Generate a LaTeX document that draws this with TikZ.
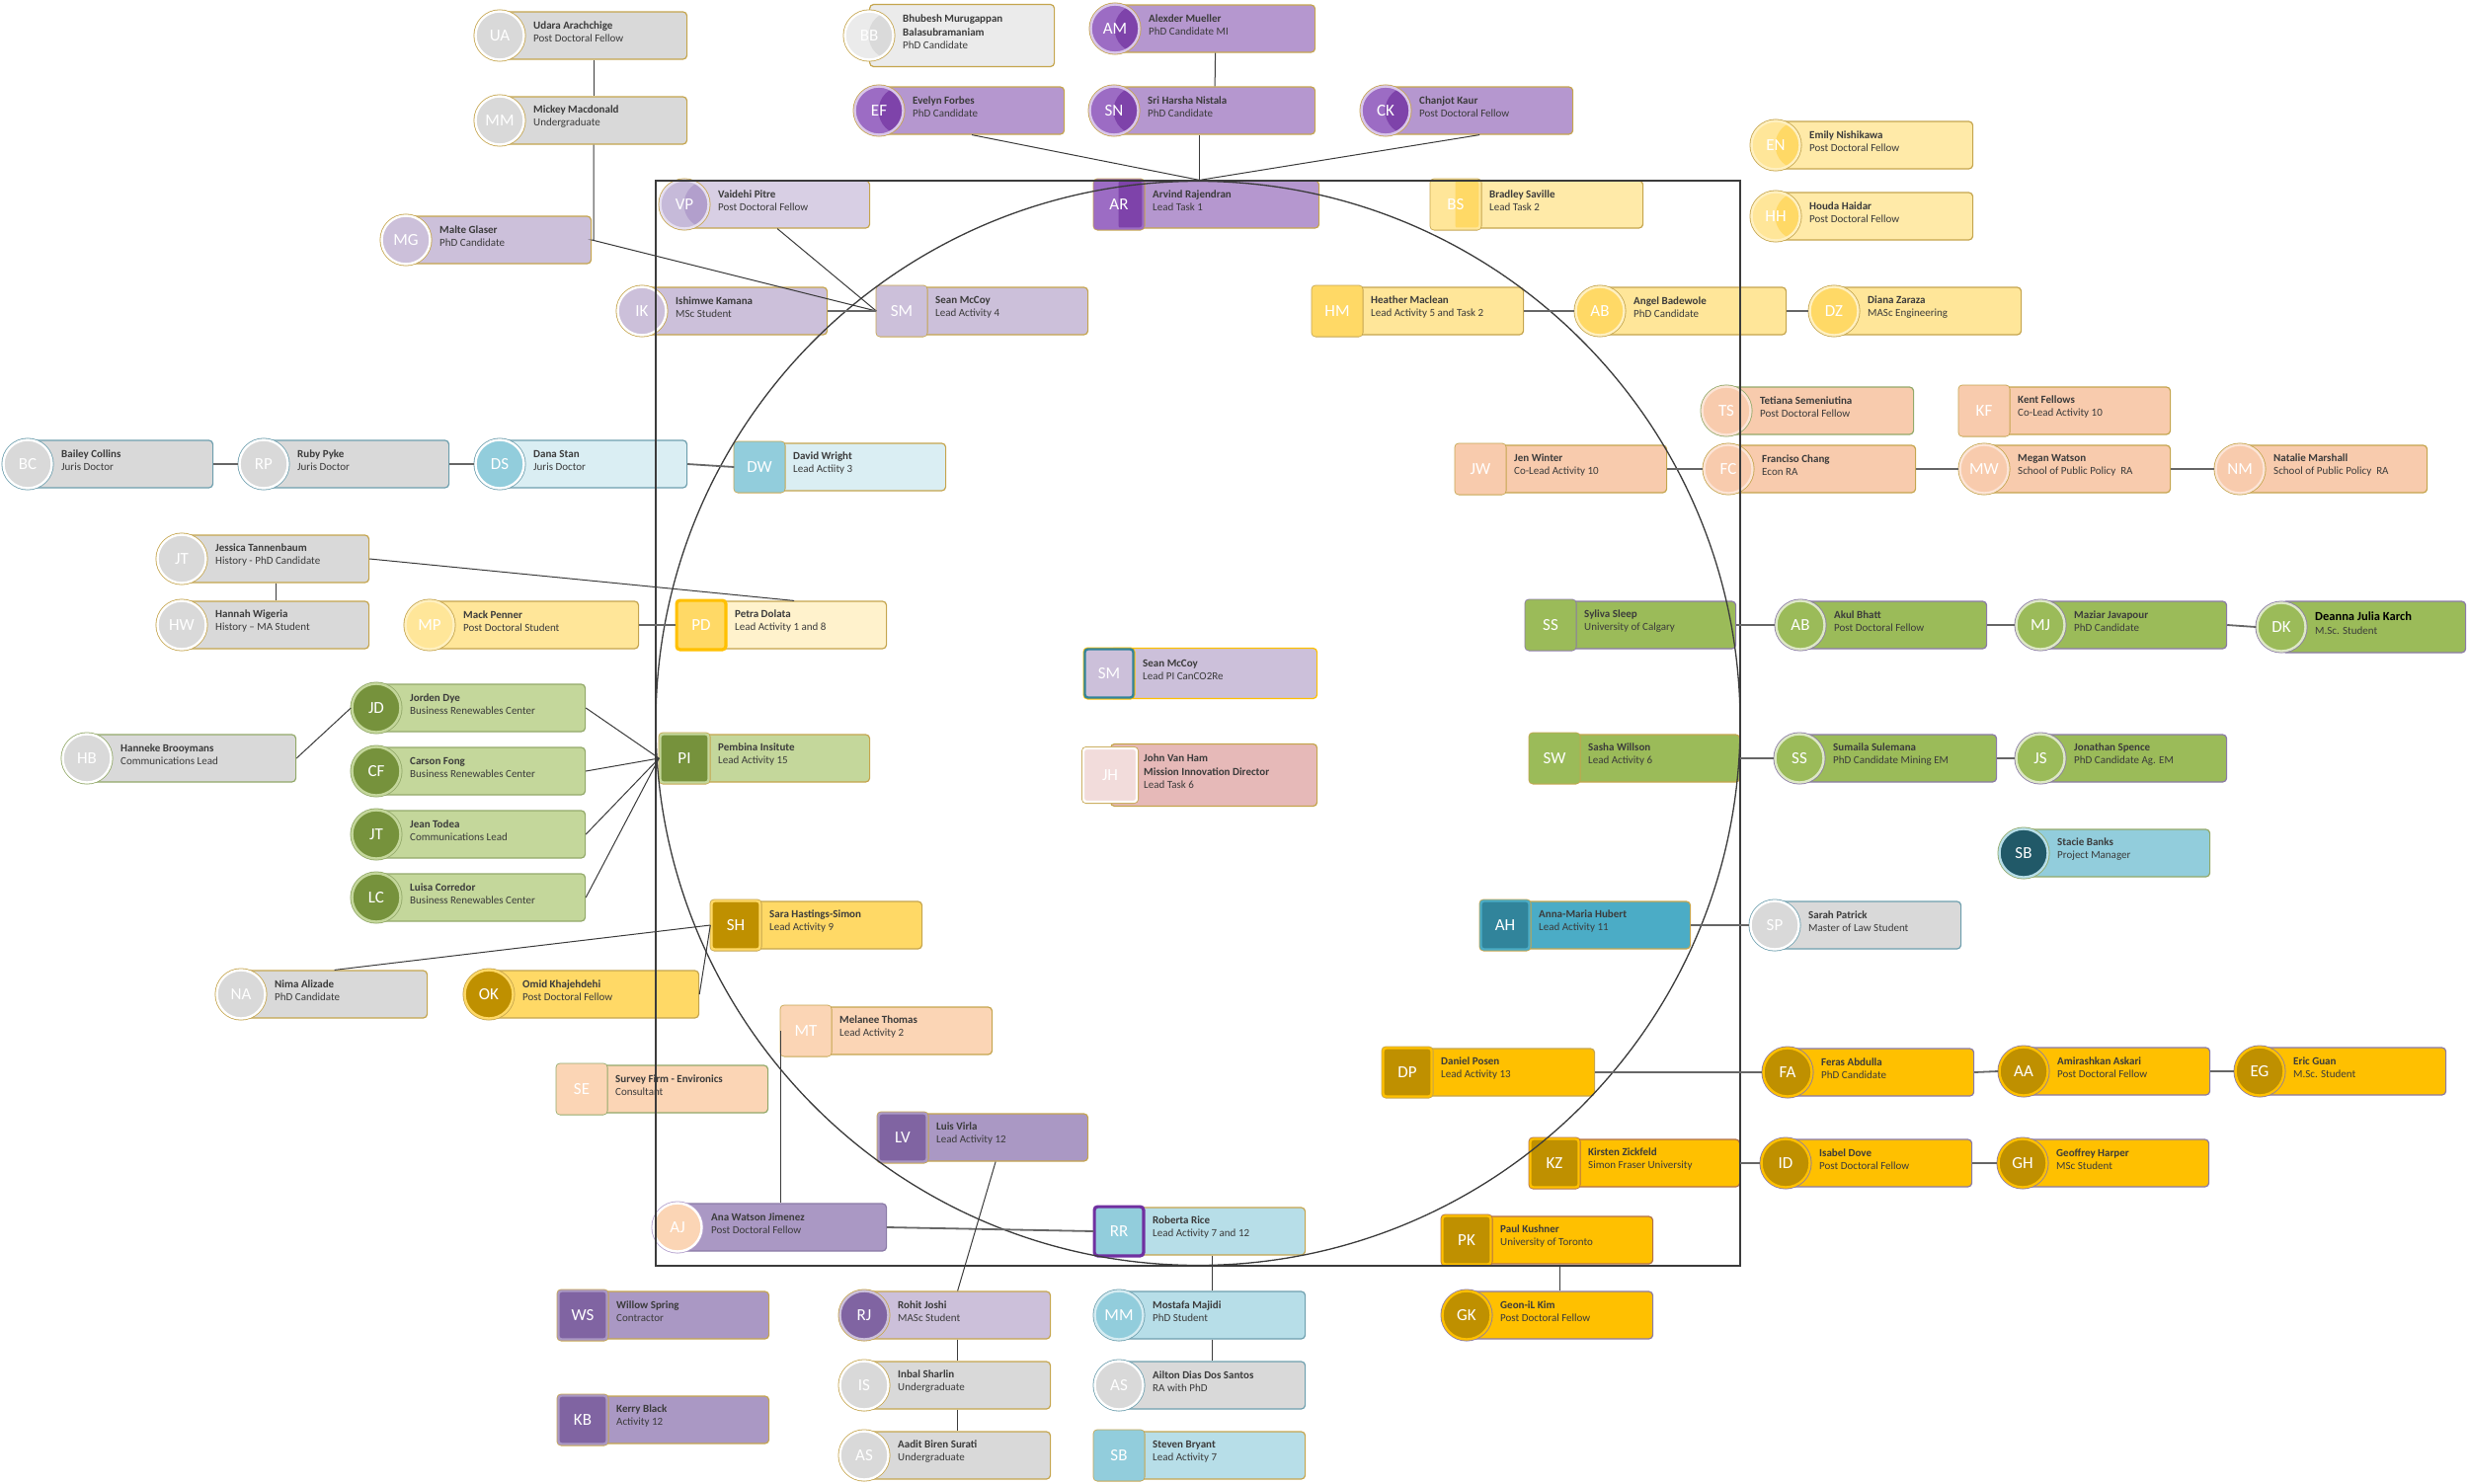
\documentclass[tikz,border=0pt]{standalone}
\usepackage{fontspec}
\setmainfont{Carlito}
\definecolor{ink}{HTML}{3B3B3B}
\definecolor{gry}{HTML}{D9D9D9}
\definecolor{gryL}{HTML}{EBEBEB}
\definecolor{gryA}{HTML}{DADADA}
\definecolor{bord}{HTML}{C5A54E}
\definecolor{bordT}{HTML}{6E9FAE}
\definecolor{bordG}{HTML}{93A96A}
\definecolor{bordP}{HTML}{8A7AA6}
\definecolor{bordR}{HTML}{B0704A}
\definecolor{pur}{HTML}{B597CF}
\definecolor{purL}{HTML}{9C6CC4}
\definecolor{purD}{HTML}{7E43AA}
\definecolor{purR}{HTML}{D9C6EA}
\definecolor{lav}{HTML}{CCC0DA}
\definecolor{lavL}{HTML}{D8CFE4}
\definecolor{lavM}{HTML}{C6BAD9}
\definecolor{lavD}{HTML}{B29FCC}
\definecolor{lavR}{HTML}{E6DFEF}
\definecolor{bluL}{HTML}{DAEEF3}
\definecolor{bluM}{HTML}{92CDDC}
\definecolor{bluC}{HTML}{B7DEE8}
\definecolor{bluR}{HTML}{D5ECF2}
\definecolor{yel}{HTML}{FFE699}
\definecolor{yelD}{HTML}{FFD966}
\definecolor{yelL}{HTML}{FFEAA8}
\definecolor{yelP}{HTML}{FFF2CC}
\definecolor{yelR}{HTML}{FFF0C0}
\definecolor{gold}{HTML}{FFC000}
\definecolor{goldD}{HTML}{BF9000}
\definecolor{pch}{HTML}{F8CBAD}
\definecolor{pchL}{HTML}{FBD5B5}
\definecolor{pchR}{HTML}{FCE4D6}
\definecolor{grn}{HTML}{C4D79B}
\definecolor{grnD}{HTML}{76923C}
\definecolor{grnM}{HTML}{9BBB59}
\definecolor{grnR}{HTML}{DDE8C6}
\definecolor{tea}{HTML}{4BACC6}
\definecolor{teaD}{HTML}{31849B}
\definecolor{teaX}{HTML}{215968}
\definecolor{mpur}{HTML}{AA98C4}
\definecolor{mpurD}{HTML}{8064A2}
\definecolor{pnk}{HTML}{E6B9B8}
\definecolor{pnkL}{HTML}{F2DCDB}
\definecolor{vio}{HTML}{7030A0}
\newcommand{\avfont}{\fontsize{17}{17}\selectfont}
\tikzset{
  card/.style n args={2}{rectangle,rounded corners=4pt,minimum height=48pt,anchor=west,
    inner sep=0pt,fill=#1,draw=#2,line width=1.2pt},
  ca/.style n args={3}{circle,minimum size=49pt,inner sep=0pt,fill=#1,draw=#2,line width=2.4pt,
    preaction={draw=#3,line width=4pt},text=white,font=\avfont},
  sa/.style n args={3}{rectangle,rounded corners=3pt,minimum size=49pt,inner sep=0pt,fill=#1,
    draw=#2,line width=2.4pt,preaction={draw=#3,line width=4pt},text=white,font=\avfont},
  tone/.style={path picture={\fill[#1] ([xshift=24pt]path picture bounding box.center) circle (24.5pt);}},
  tonesq/.style={path picture={\fill[#1,rounded corners=3pt] ([xshift=24pt]path picture bounding box.south west)
    rectangle ([xshift=24pt]path picture bounding box.north east);}},
  info/.style={anchor=west,align=left,inner sep=0pt,text=ink,font=\fontsize{11}{13.5}\selectfont\bfseries},
  conn/.style={draw=ink,line width=1pt},
  link/.style={draw=black!60,line width=1.8pt},
  frame/.style={draw=ink,line width=1.3pt}
}
% id, x, y, right edge, card style, avatar style, initials, name, role
\newcommand{\member}[9]{%
  \node[#5,minimum width={#4-#2}] (#1) at (#2,#3) {};
  \node[#6] (#1-a) at (#2,#3) {#7};
  \node[info] at (#2+34,#3-3.8) {#8\\\mdseries #9};}

\begin{document}
\begin{tikzpicture}[x=1pt,y=-1pt]
  \useasboundingbox (0,0) rectangle (2500,1502);
  % top left group
  \member{UA}{506}{36}{695}{card={gry}{bord}}{ca={gry}{white}{bord}}{UA}{Udara Arachchige}{Post Doctoral Fellow}
  \member{MM}{506}{122}{695}{card={gry}{bord}}{ca={gry}{white}{bord}}{MM}{Mickey Macdonald}{Undergraduate}
  \member{MG}{411}{243}{598}{card={lav}{bord}}{ca={lav}{white}{bord}}{MG}{Malte Glaser}{PhD Candidate}
  \member{BC}{28}{470}{215}{card={gry}{bordT}}{ca={gry}{white}{bordT}}{BC}{Bailey Collins}{Juris Doctor}
  \member{RP}{267}{470}{454}{card={gry}{bordT}}{ca={gry}{white}{bordT}}{RP}{Ruby Pyke}{Juris Doctor}
  \member{DS}{506}{470}{695}{card={bluL}{bordT}}{ca={bluM}{white}{bordT}}{DS}{Dana Stan}{Juris Doctor}
  \member{BB}{880}{36}{1067}{card={gryL}{bord},minimum height=63pt}{ca={gryL}{white}{bord},tone=gryA}{BB}{Bhubesh Murugappan\\Balasubramaniam}{PhD Candidate}
  % task 1
  \member{AM}{1129}{29}{1331}{card={pur}{bord}}{ca={purL}{purR}{bord},tone=purD}{AM}{Alexder Mueller}{PhD Candidate MI}
  \member{EF}{890}{112}{1077}{card={pur}{bord}}{ca={purL}{purR}{bord},tone=purD}{EF}{Evelyn Forbes}{PhD Candidate}
  \member{SN}{1128}{112}{1331}{card={pur}{bord}}{ca={purL}{purR}{bord},tone=purD}{SN}{Sri Harsha Nistala}{PhD Candidate}
  \member{CK}{1403}{112}{1592}{card={pur}{bord}}{ca={purL}{purR}{bord},tone=purD}{CK}{Chanjot Kaur}{Post Doctoral Fellow}
  \member{AR}{1133}{207}{1335}{card={pur}{bord}}{sa={purL}{purL}{bord},tonesq=purD}{AR}{Arvind Rajendran}{Lead Task 1}
  % activity 4
  \member{VP}{693}{207}{880}{card={lavL}{bord}}{ca={lavM}{lavR}{bord},tone=lavD}{VP}{Vaidehi Pitre}{Post Doctoral Fellow}
  \member{IK}{650}{315}{837}{card={lav}{bord}}{ca={lav}{white}{bord}}{IK}{Ishimwe Kamana}{MSc Student}
  \member{SM}{913}{315}{1101}{card={lav}{bord}}{sa={lav}{lav}{bord}}{SM}{Sean McCoy}{Lead Activity 4}
  \member{DW}{769}{473}{957}{card={bluL}{bord}}{sa={bluM}{bluM}{bord}}{DW}{David Wright}{Lead Actiity 3}
  % task 2 and activity 5
  \member{BS}{1474}{207}{1663}{card={yelL}{bord}}{sa={yel}{yel}{bord},tonesq=yelD}{BS}{Bradley Saville}{Lead Task 2}
  \member{EN}{1798}{147}{1997}{card={yelL}{bord}}{ca={yel}{yelR}{bord},tone=yelD}{EN}{Emily Nishikawa}{Post Doctoral Fellow}
  \member{HH}{1798}{219}{1997}{card={yelL}{bord}}{ca={yel}{yelR}{bord},tone=yelD}{HH}{Houda Haidar}{Post Doctoral Fellow}
  \member{HM}{1354}{315}{1542}{card={yel}{bord}}{sa={yelD}{yelD}{bord}}{HM}{Heather Maclean}{Lead Activity 5 and Task 2}
  \member{AB}{1620}{315}{1808}{card={yel}{bord}}{ca={yelD}{yelR}{bord}}{AB}{Angel Badewole}{PhD Candidate}
  \member{DZ}{1857}{315}{2046}{card={yel}{bord}}{ca={yelD}{yelR}{bord}}{DZ}{Diana Zaraza}{MASc Engineering}
  % activity 10
  \member{TS}{1748}{416}{1937}{card={pch}{bordG}}{ca={pch}{pchR}{bordG}}{TS}{Tetiana Semeniutina}{Post Doctoral Fellow}
  \member{JW}{1499}{475}{1687}{card={pch}{bord}}{sa={pch}{pch}{bord}}{JW}{Jen Winter}{Co-Lead Activity 10}
  \member{FC}{1750}{475}{1939}{card={pch}{bord}}{ca={pch}{pchR}{bord}}{FC}{Franciso Chang}{Econ RA}
  \member{KF}{2009}{416}{2197}{card={pch}{bord}}{sa={pch}{pch}{bord}}{KF}{Kent Fellows}{Co-Lead Activity 10}
  \member{MW}{2009}{475}{2197}{card={pch}{bord}}{ca={pch}{pchR}{bord}}{MW}{Megan Watson}{School of Public Policy\ \ RA}
  \member{NM}{2268}{475}{2457}{card={pch}{bord}}{ca={pch}{pchR}{bord}}{NM}{Natalie Marshall}{School of Public Policy\ \ RA}
  % activities 1, 8, 15, 9
  \member{JT}{184}{566}{373}{card={gry}{bord}}{ca={gry}{white}{bord}}{JT}{Jessica Tannenbaum}{History - PhD Candidate}
  \member{HW}{184}{633}{373}{card={gry}{bord}}{ca={gry}{white}{bord}}{HW}{Hannah Wigeria}{History -- MA Student}
  \member{MP}{435}{633}{646}{card={yel}{bord}}{ca={yel}{yelR}{bord}}{MP}{Mack Penner}{Post Doctoral Student}
  \member{PD}{710}{633}{897}{card={yelP}{bord}}{sa={yelD}{gold}{gold}}{PD}{Petra Dolata}{Lead Activity 1 and 8}
  \member{JD}{381}{717}{592}{card={grn}{bordG}}{ca={grnD}{grn}{bordG}}{JD}{Jorden Dye}{Business Renewables Center}
  \member{HB}{88}{768}{299}{card={gry}{bordG}}{ca={gry}{white}{bordG}}{HB}{Hanneke Brooymans}{Communications Lead}
  \member{CF}{381}{781}{592}{card={grn}{bordG}}{ca={grnD}{grn}{bordG}}{CF}{Carson Fong}{Business Renewables Center}
  \member{JN}{381}{845}{592}{card={grn}{bordG}}{ca={grnD}{grn}{bordG}}{JT}{Jean Todea}{Communications Lead}
  \member{LC}{381}{909}{592}{card={grn}{bordG}}{ca={grnD}{grn}{bordG}}{LC}{Luisa Corredor}{Business Renewables Center}
  \member{PI}{693}{768}{880}{card={grn}{bord}}{sa={grnD}{grn}{bord}}{PI}{Pembina Insitute}{Lead Activity 15}
  \member{NA}{244}{1007}{432}{card={gry}{bord}}{ca={gry}{white}{bord}}{NA}{Nima Alizade}{PhD Candidate}
  \member{OK}{495}{1007}{707}{card={yelD}{bord}}{ca={goldD}{yelD}{bord}}{OK}{Omid Khajehdehi}{Post Doctoral Fellow}
  \member{SH}{745}{937}{933}{card={yelD}{bord}}{sa={goldD}{yelD}{bord}}{SH}{Sara Hastings-Simon}{Lead Activity 9}
  % centre
  \member{LP}{1123}{682}{1333}{card={lav}{gold},minimum height=51pt}{sa={lav}{teaD}{gold}}{SM}{Sean McCoy}{Lead PI CanCO2Re}
  \member{JH}{1124}{785}{1333}{card={pnk}{bord},minimum height=63pt}{sa={pnkL}{white}{bord},minimum size=54pt}{JH}{John Van Ham\\Mission Innovation Director}{Lead Task 6}
  % activity 6
  \member{SS}{1570}{633}{1757}{card={grnM}{bordP}}{sa={grnM}{grnM}{bordP}}{SS}{Syliva Sleep}{University of Calgary}
  \member{AK}{1823}{633}{2011}{card={grnM}{bordP}}{ca={grnM}{grnR}{bordP}}{AB}{Akul Bhatt}{Post Doctoral Fellow}
  \member{MJ}{2066}{633}{2254}{card={grnM}{bordP}}{ca={grnM}{grnR}{bordP}}{MJ}{Maziar Javapour}{PhD Candidate}
  \member{DK}{2310}{635}{2496}{card={grnM}{bordP},minimum height=52pt}{ca={grnM}{grnR}{bordP}}{DK}{{\fontsize{12.5}{14}\selectfont\color{black}Deanna Julia Karch}}{M.Sc. Student}
  \member{SW}{1574}{768}{1761}{card={grnM}{bord}}{sa={grnM}{grnM}{bord}}{SW}{Sasha Willson}{Lead Activity 6}
  \member{SU}{1822}{768}{2021}{card={grnM}{bordP}}{ca={grnM}{grnR}{bordP}}{SS}{Sumaila Sulemana}{PhD Candidate Mining EM}
  \member{JS}{2066}{768}{2254}{card={grnM}{bordP}}{ca={grnM}{grnR}{bordP}}{JS}{Jonathan Spence}{PhD Candidate Ag. EM}
  \member{SB}{2049}{864}{2237}{card={bluM}{bordG}}{ca={teaX}{bluC}{bordG}}{SB}{Stacie Banks}{Project Manager}
  % activity 11
  \member{AH}{1524}{937}{1711}{card={tea}{bord}}{sa={teaD}{tea}{bord}}{AH}{Anna-Maria Hubert}{Lead Activity 11}
  \member{SP}{1797}{937}{1985}{card={gry}{bordT}}{ca={gry}{white}{bordT}}{SP}{Sarah Patrick}{Master of Law Student}
  % activities 2, 12, 7
  \member{MT}{816}{1044}{1004}{card={pchL}{bord}}{sa={pchL}{pchL}{bord}}{MT}{Melanee Thomas}{Lead Activity 2}
  \member{SE}{589}{1103}{777}{card={pchL}{bordG}}{sa={pchL}{pchL}{bordG}}{SE}{Survey Firm - Environics}{Consultant}
  \member{LV}{914}{1152}{1101}{card={mpur}{bord}}{sa={mpurD}{mpur}{bord}}{LV}{Luis Virla}{Lead Activity 12}
  \member{AJ}{686}{1243}{897}{card={mpur}{bordP}}{ca={pchL}{white}{lavD}}{AJ}{Ana Watson Jimenez}{Post Doctoral Fellow}
  \member{RR}{1133}{1247}{1321}{card={bluC}{bord}}{sa={bluM}{vio}{vio}}{RR}{Roberta Rice}{Lead Activity 7 and 12}
  \member{WS}{590}{1332}{778}{card={mpur}{bord}}{sa={mpurD}{mpur}{bord}}{WS}{Willow Spring}{Contractor}
  \member{KB}{590}{1438}{778}{card={mpur}{bord}}{sa={mpurD}{mpur}{bord}}{KB}{Kerry Black}{Activity 12}
  \member{RJ}{875}{1332}{1063}{card={lav}{bord}}{ca={mpurD}{lav}{bord}}{RJ}{Rohit Joshi}{MASc Student}
  \member{IS}{875}{1403}{1063}{card={gry}{bord}}{ca={gry}{white}{bord}}{IS}{Inbal Sharlin}{Undergraduate}
  \member{AS}{875}{1474}{1063}{card={gry}{bord}}{ca={gry}{white}{bord}}{AS}{Aadit Biren Surati}{Undergraduate}
  \member{MA}{1133}{1332}{1321}{card={bluC}{bordT}}{ca={bluM}{bluR}{bordT}}{MM}{Mostafa Majidi}{PhD Student}
  \member{AD}{1133}{1403}{1321}{card={gry}{bordT}}{ca={gry}{white}{bordT}}{AS}{Ailton Dias Dos Santos}{RA with PhD}
  \member{ST}{1133}{1474}{1321}{card={bluC}{bord}}{sa={bluM}{bluM}{bord}}{SB}{Steven Bryant}{Lead Activity 7}
  % activities 13 and partners
  \member{DP}{1425}{1086}{1614}{card={gold}{bord}}{sa={goldD}{gold}{bord}}{DP}{Daniel Posen}{Lead Activity 13}
  \member{FA}{1810}{1086}{1998}{card={gold}{bordP}}{ca={goldD}{gold}{bordP}}{FA}{Feras Abdulla}{PhD Candidate}
  \member{AA}{2049}{1085}{2237}{card={gold}{bordP}}{ca={goldD}{gold}{bordP}}{AA}{Amirashkan Askari}{Post Doctoral Fellow}
  \member{EG}{2288}{1085}{2476}{card={gold}{bordP}}{ca={goldD}{gold}{bordP}}{EG}{Eric Guan}{M.Sc. Student}
  \member{KZ}{1574}{1178}{1761}{card={gold}{bordR}}{sa={goldD}{gold}{bordR}}{KZ}{Kirsten Zickfeld}{Simon Fraser University}
  \member{ID}{1808}{1178}{1996}{card={gold}{bordP}}{ca={goldD}{gold}{bordP}}{ID}{Isabel Dove}{Post Doctoral Fellow}
  \member{GH}{2048}{1178}{2236}{card={gold}{bordP}}{ca={goldD}{gold}{bordP}}{GH}{Geoffrey Harper}{MSc Student}
  \member{PK}{1485}{1256}{1673}{card={gold}{bordR}}{sa={goldD}{gold}{bordR}}{PK}{Paul Kushner}{University of Toronto}
  \member{GK}{1485}{1332}{1673}{card={gold}{bordP}}{ca={goldD}{gold}{bordP}}{GK}{Geon-iL Kim}{Post Doctoral Fellow}

  % frame
  \draw[frame] (664,183) rectangle (1762,1282);
  \draw[frame] (1213,732.5) circle (549pt);

  % connectors
  \coordinate (hub) at ([xshift=-20pt]AR.north);
  \draw[conn] (UA.south) -- (MM.north);
  \draw[conn] (MM.south) |- (MG.east) -- (SM-a.west);
  \draw[conn] (VP.south) -- (SM-a.west);
  \draw[link] (IK.east) -- (SM-a.west);
  \draw[conn] (AM.south) -- (SN.north);
  \draw[conn] (EF.south) -- (hub);
  \draw[conn] (CK.south) -- (hub);
  \draw[conn] (SN.south -| hub) -- (hub);
  \draw[link] (BC.east) -- (RP-a.west);
  \draw[link] (RP.east) -- (DS-a.west);
  \draw[link] (DS.east) -- (DW-a.west);
  \draw[link] (HM.east) -- (AB-a.west);
  \draw[link] (AB.east) -- (DZ-a.west);
  \draw[link] (JW.east) -- (FC-a.west);
  \draw[link] (FC.east) -- (MW-a.west);
  \draw[link] (MW.east) -- (NM-a.west);
  \draw[conn] (JT.south) -- (HW.north);
  \draw[conn] (JT.east) -- (PD.north);
  \draw[link] (MP.east) -- (PD-a.west);
  \draw[conn] (HB.east) -- (JD-a.west);
  \foreach \n in {JD,CF,JN,LC}
    \draw[conn] (\n.east) -- (PI-a.west);
  \draw[conn] (SH-a.west) -- (NA.north);
  \draw[conn] (SH-a.west) -- (OK.east);
  \draw[link] (SS.east) -- (AK-a.west);
  \draw[link] (AK.east) -- (MJ-a.west);
  \draw[link] (MJ.east) -- (DK-a.west);
  \draw[link] (SW.east) -- (SU-a.west);
  \draw[link] (SU.east) -- (JS-a.west);
  \draw[link] (AH.east) -- (SP-a.west);
  \draw[conn] (MT-a.west) -- (MT-a.west |- AJ.north);
  \draw[link] (AJ.east) -- (RR-a.west);
  \draw[conn] (LV.south) -- (RJ.north);
  \draw[conn] (RJ.south) -- (IS.north);
  \draw[conn] (IS.south) -- (AS.north);
  \draw[conn] (RR.south) -- (MA.north);
  \draw[conn] (MA.south) -- (AD.north);
  \draw[link] (DP.east) -- (FA-a.west);
  \draw[link] (FA.east) -- (AA-a.west);
  \draw[link] (AA.east) -- (EG-a.west);
  \draw[link] (KZ.east) -- (ID-a.west);
  \draw[link] (ID.east) -- (GH-a.west);
  \draw[conn] (PK.south) -- (GK.north);
\end{tikzpicture}
\end{document}
